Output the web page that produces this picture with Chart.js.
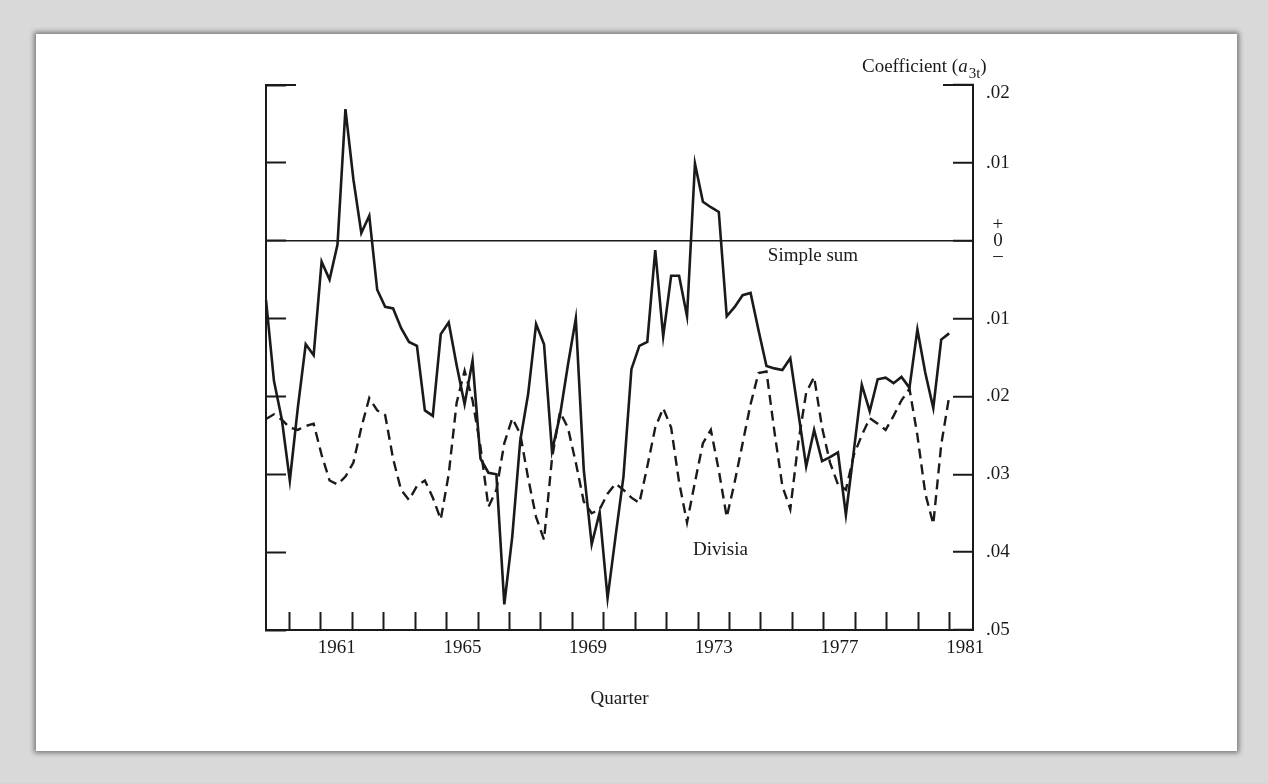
<!DOCTYPE html>
<html>
<head>
<meta charset="utf-8">
<title>Coefficient a3t by quarter</title>
<script src="https://cdn.jsdelivr.net/npm/chart.js@4.4.1/dist/chart.umd.min.js"></script>
<style>
  html, body { margin: 0; padding: 0; }
  body { width: 1268px; height: 783px; background: #d9d9d9; position: relative; overflow: hidden; }
  .panel { position: absolute; left: 36px; top: 34px; width: 1201px; height: 717px; background: #fff;
           box-shadow: 0 0 5px 2px rgba(0,0,0,0.45); }
  .wrap { position: absolute; left: 0; top: 0; width: 1268px; height: 783px; }
</style>
</head>
<body>
<div class="panel"></div>
<div class="wrap"><canvas id="chart" width="1268" height="783"></canvas></div>
<script>
// ---- data: quarterly, 1959 II .. 1980 IV (87 obs) ----
// the category axis carries three empty quarters at the end so it runs out to the frame
const quarters = [];
for (let yr = 1959; yr <= 1981; yr++) {
  for (let q = 1; q <= 4; q++) {
    if ((yr === 1959 && q === 1) || (yr === 1981 && q === 4)) continue;
    quarters.push(yr + ' Q' + q);
  }
}

const yearLabels = ['1961', '1965', '1969', '1973', '1977', '1981'];

const simpleSum = [
  -0.0076, -0.0180, -0.0230, -0.0308, -0.0215, -0.0133, -0.0147, -0.0027, -0.0050, -0.0005,
   0.0169,  0.0079,  0.0010,  0.0032, -0.0063, -0.0085, -0.0087, -0.0112, -0.0130, -0.0135,
  -0.0218, -0.0225, -0.0120, -0.0105, -0.0160, -0.0210, -0.0154, -0.0280, -0.0298, -0.0300,
  -0.0467, -0.0380, -0.0257, -0.0197, -0.0107, -0.0133, -0.0270, -0.0225, -0.0160, -0.0100,
  -0.0294, -0.0390, -0.0349, -0.0459, -0.0380, -0.0303, -0.0165, -0.0135, -0.0130, -0.0012,
  -0.0123, -0.0045, -0.0045, -0.0097,  0.0099,  0.0050,  0.0043,  0.0037, -0.0097, -0.0085,
  -0.0070, -0.0067, -0.0115, -0.0161, -0.0164, -0.0166, -0.0151, -0.0220, -0.0290, -0.0243,
  -0.0283, -0.0278, -0.0272, -0.0352, -0.0270, -0.0185, -0.0219, -0.0178, -0.0176, -0.0183,
  -0.0175, -0.0189, -0.0114, -0.0170, -0.0215, -0.0127, -0.0119
];

const divisia = [
  -0.0229, -0.0223, -0.0230, -0.0240, -0.0243, -0.0238, -0.0235, -0.0275, -0.0308, -0.0313,
  -0.0303, -0.0285, -0.0240, -0.0202, -0.0218, -0.0224, -0.0280, -0.0320, -0.0333, -0.0315,
  -0.0308, -0.0330, -0.0358, -0.0300, -0.0208, -0.0167, -0.0205, -0.0265, -0.0342, -0.0320,
  -0.0260, -0.0228, -0.0248, -0.0305, -0.0355, -0.0384, -0.0280, -0.0220, -0.0240, -0.0285,
  -0.0335, -0.0350, -0.0345, -0.0325, -0.0312, -0.0320, -0.0330, -0.0337, -0.0290, -0.0240,
  -0.0215, -0.0240, -0.0310, -0.0362, -0.0310, -0.0260, -0.0243, -0.0295, -0.0355, -0.0310,
  -0.0260, -0.0210, -0.0170, -0.0168, -0.0245, -0.0315, -0.0345, -0.0260, -0.0195, -0.0175,
  -0.0240, -0.0285, -0.0313, -0.0320, -0.0275, -0.0250, -0.0228, -0.0235, -0.0243, -0.0225,
  -0.0205, -0.0190, -0.0250, -0.0325, -0.0364, -0.0262, -0.0200
];

const INK = '#1a1a1a';
const NONE = 'rgba(0,0,0,0)';
const FONT = '"Liberation Serif", "Times New Roman", serif';

// extra bits the axes can't do: long end marks at the top, series tags, axis caption
const decor = {
  id: 'decor',
  afterDraw(chart) {
    const { ctx, chartArea: a, scales: { xYear, y } } = chart;
    ctx.save();
    ctx.strokeStyle = INK;
    ctx.lineWidth = 2;
    ctx.beginPath();
    ctx.moveTo(a.left, a.top); ctx.lineTo(a.left + 30, a.top);
    ctx.moveTo(a.right - 30, a.top); ctx.lineTo(a.right, a.top);
    ctx.stroke();

    ctx.fillStyle = INK;
    ctx.font = '19px ' + FONT;
    ctx.textAlign = 'left';
    ctx.textBaseline = 'middle';
    ctx.fillText('Simple sum', xYear.getPixelForValue(1975.22), y.getPixelForValue(-0.002));
    ctx.fillText('Divisia', xYear.getPixelForValue(1972.84), y.getPixelForValue(-0.0397));

    // Coefficient (a_3t)
    ctx.textBaseline = 'alphabetic';
    let cx = a.right - 111;
    const cy = a.top - 13;
    const part = (txt, font, dy) => {
      ctx.font = font;
      ctx.fillText(txt, cx, cy + dy);
      cx += ctx.measureText(txt).width;
    };
    part('Coefficient (', '19px ' + FONT, 0);
    part('a', 'italic 19px ' + FONT, 0);
    cx += 1;
    part('3t', '15px ' + FONT, 6);
    part(')', '19px ' + FONT, 0);
    ctx.restore();
  }
};

const ctx = document.getElementById('chart').getContext('2d');
new Chart(ctx, {
  type: 'line',
  data: {
    labels: quarters,
    datasets: [
      { label: 'Simple sum', data: simpleSum, xAxisID: 'x', yAxisID: 'y',
        borderColor: INK, borderWidth: 2.6, pointRadius: 0, tension: 0, fill: false },
      { label: 'Divisia', data: divisia, xAxisID: 'x', yAxisID: 'y',
        borderColor: INK, borderWidth: 2.4, borderDash: [10, 6], pointRadius: 0, tension: 0, fill: false }
    ]
  },
  options: {
    responsive: false,
    animation: false,
    layout: { padding: { left: 266, right: 235, top: 85, bottom: 73 } },
    plugins: { legend: { display: false }, tooltip: { enabled: false } },
    scales: {
      x: { type: 'category', display: false },
      xYear: {
        type: 'linear',
        position: 'bottom',
        min: 1959.25, max: 1981.75,
        grid: {
          drawOnChartArea: false, drawTicks: true, tickLength: -18, tickWidth: 2,
          tickColor: c => (Number.isInteger(c.tick.value) ? INK : NONE)
        },
        border: { display: true, color: INK, width: 2 },
        ticks: {
          stepSize: 0.25, autoSkip: false, maxRotation: 0, minRotation: 0, padding: 25, color: INK,
          font: { family: FONT, size: 19 },
          callback(v) {
            const yr = String(Math.floor(v));
            return (v % 1 === 0.5 && yearLabels.includes(yr)) ? yr : '';
          }
        },
        title: { display: true, text: 'Quarter', color: INK, font: { family: FONT, size: 19 }, padding: 0 },
        afterFit(s) { s.height = 80; }
      },
      y: {
        position: 'right',
        min: -0.05, max: 0.02,
        grid: {
          drawOnChartArea: true, drawTicks: true, tickLength: -20, tickWidth: 2, tickColor: INK,
          lineWidth: 1.5,
          color: c => (Math.abs(c.tick.value) < 1e-9 ? INK : NONE)
        },
        border: { display: true, color: INK, width: 2 },
        ticks: {
          stepSize: 0.01, padding: 33, crossAlign: 'center', color: INK,
          font: { family: FONT, size: 19, lineHeight: 0.8 },
          callback(v) {
            const r = Math.round(v * 100);
            if (r === 0) return ['+', '0', '\u2013'];
            const s = '.0' + Math.abs(r);
            return r === 2 ? ['', s] : s;
          }
        },
        afterFit(s) { s.width = 60; }
      },
      yl: {
        position: 'left',
        min: -0.05, max: 0.02,
        grid: { drawOnChartArea: false, drawTicks: true, tickLength: -20, tickWidth: 2, tickColor: INK },
        border: { display: true, color: INK, width: 2 },
        ticks: { stepSize: 0.01, display: false },
        afterFit(s) { s.width = 0; }
      }
    }
  },
  plugins: [decor]
});
</script>
</body>
</html>
